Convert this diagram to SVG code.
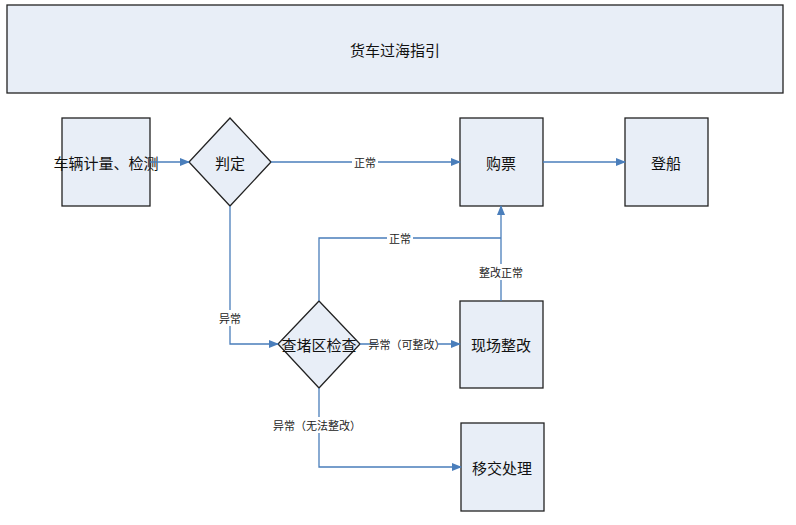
<svg xmlns="http://www.w3.org/2000/svg" width="796" height="525" viewBox="0 0 796 525">
<style>
.n{fill:#e8eef7;stroke:#222;stroke-width:1.3}
.t{font-family:"Noto Sans CJK SC",sans-serif;font-size:15px;fill:#111;text-anchor:middle;dominant-baseline:central}
.l{font-family:"Noto Sans CJK SC",sans-serif;font-size:11px;fill:#222;text-anchor:middle;dominant-baseline:central}
.c{fill:none;stroke:#4a7ebb;stroke-width:1.3}
.bg{fill:#fff}
</style>
<defs><marker id="a" markerWidth="10" markerHeight="8" refX="9" refY="4" orient="auto" markerUnits="userSpaceOnUse"><path d="M0,0L10,4L0,8z" fill="#4a7ebb"/></marker></defs>
<rect width="796" height="525" fill="#fff"/>
<g id="title"><rect class="n" x="7" y="5" width="776" height="88"/><text class="t" x="395" y="49">货车过海指引</text></g>
<g id="n1"><rect class="n" x="62" y="118" width="88" height="88"/><text class="t" x="106" y="162">车辆计量、检测</text></g>
<g id="n2"><path class="n" d="M230,118L271,162L230,206L189,162z"/><text class="t" x="230" y="162">判定</text></g>
<g id="n3"><rect class="n" x="460" y="118" width="83" height="88"/><text class="t" x="501" y="162">购票</text></g>
<g id="n4"><rect class="n" x="625" y="118" width="83" height="88"/><text class="t" x="666" y="162">登船</text></g>
<g id="n5"><path class="n" d="M319,301L360,344L319,388L278,344z"/><text class="t" x="319" y="344">查堵区检查</text></g>
<g id="n6"><rect class="n" x="460" y="301" width="83" height="87"/><text class="t" x="501" y="344">现场整改</text></g>
<g id="n7"><rect class="n" x="461" y="423" width="83" height="88"/><text class="t" x="502" y="467">移交处理</text></g>
<g id="edges">
<path class="c" d="M150,162H189" marker-end="url(#a)"/>
<path class="c" d="M271,162H460" marker-end="url(#a)"/>
<path class="c" d="M543,162H625" marker-end="url(#a)"/>
<path class="c" d="M230,206V344H278" marker-end="url(#a)"/>
<path class="c" d="M319,301V238H501"/>
<path class="c" d="M501,301V206" marker-end="url(#a)"/>
<path class="c" d="M360,344H460" marker-end="url(#a)"/>
<path class="c" d="M319,388V467H461" marker-end="url(#a)"/>
<rect class="bg" x="352" y="154" width="26" height="16"/><text class="l" x="365" y="162">正常</text>
<rect class="bg" x="387" y="230" width="26" height="16"/><text class="l" x="400" y="238">正常</text>
<rect class="bg" x="479" y="264" width="44" height="16"/><text class="l" x="501" y="272">整改正常</text>
<rect class="bg" x="217" y="310" width="26" height="16"/><text class="l" x="230" y="318">异常</text>
<rect class="bg" x="376" y="336" width="62" height="16"/><text class="l" x="407" y="344">异常（可整改）</text>
<rect class="bg" x="280" y="417" width="74" height="16"/><text class="l" x="317" y="425">异常（无法整改）</text>
</g>
</svg>
